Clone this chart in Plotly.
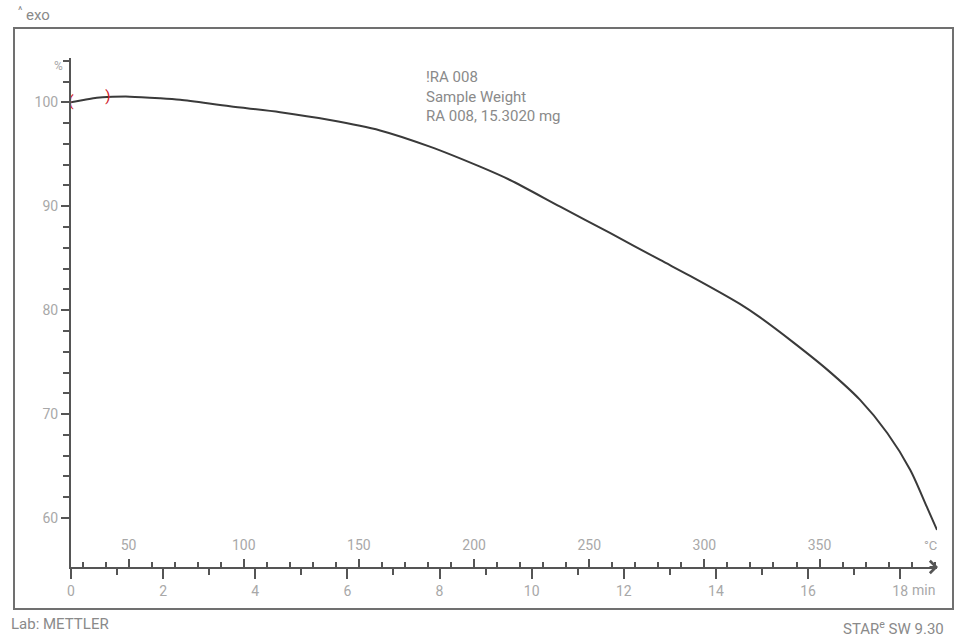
import plotly.graph_objects as go
import numpy as np

# ---- data ----
time_min = [0.0, 0.3, 0.56, 0.9, 1.28, 1.93, 2.37, 3.45, 4.54, 5.62, 6.71, 7.79,
            8.88, 9.53, 10.62, 11.70, 12.79, 13.44, 14.52, 14.96, 15.68, 16.41,
            17.13, 17.72, 18.22, 18.58, 18.80]
weight_pct = [100.0, 100.25, 100.45, 100.53, 100.55, 100.4, 100.25, 99.62, 99.05, 98.3,
              97.3, 95.74, 93.81, 92.53, 89.96, 87.43, 84.83, 83.3, 80.6, 79.3,
              76.9, 74.3, 71.36, 68.18, 64.62, 61.06, 58.85]
marker_time = [0.0, 0.8]
marker_text = ["(", ")"]
time_ticks = [0, 2, 4, 6, 8, 10, 12, 14, 16, 18]
time_labels = ["0", "2", "4", "6", "8", "10", "12", "14", "16", "18"]
temp_ticks = [50, 100, 150, 200, 250, 300, 350]
weight_ticks = [60, 70, 80, 90, 100]
start_temp = 25.0   # degC at t = 0
heat_rate = 20.0    # K/min
info_lines = ["!RA 008", "Sample Weight", "RA 008, 15.3020 mg"]

# ---- layout geometry ----
W, H = 963, 643
L, R, T, B = 71, 937, 58, 567
t_range = [0.0, 18.80]
y_range = [55.28, 104.27]
temp_range = [start_temp + heat_rate * t_range[0], start_temp + heat_rate * t_range[1]]

def px(x):
    return (x - L) / (R - L)

def py(y):
    return (B - y) / (B - T)

AX = "#555555"
LBL = "#a8a8a8"
TXT = "#8a8a8a"
FONT = "Roboto"

marker_w = list(np.interp(marker_time, time_min, weight_pct))

fig = go.Figure()
fig.add_trace(go.Scatter(x=time_min, y=weight_pct, mode="lines",
                         line=dict(color="#3a3a3a", width=2, shape="spline", smoothing=0.8),
                         hoverinfo="skip", showlegend=False))
fig.add_trace(go.Scatter(x=marker_time, y=marker_w, mode="text", text=marker_text,
                         textfont=dict(color="#d0202a", size=15, family=FONT),
                         textposition="middle center", showlegend=False, hoverinfo="skip"))
fig.add_trace(go.Scatter(x=[start_temp + heat_rate * t for t in time_min], y=weight_pct,
                         xaxis="x2", mode="lines", line=dict(color="rgba(0,0,0,0)"),
                         showlegend=False, hoverinfo="skip"))

fig.update_layout(
    width=W, height=H,
    margin=dict(l=L, r=W - R, t=T, b=H - B),
    paper_bgcolor="white", plot_bgcolor="white",
    font=dict(family=FONT, color=LBL, size=13),
    xaxis=dict(range=t_range, showgrid=False, zeroline=False,
               showline=True, linecolor=AX, linewidth=2,
               ticks="outside", ticklen=10, tickwidth=2, tickcolor=AX,
               tickvals=time_ticks, ticktext=time_labels,
               tickfont=dict(size=14, color=LBL, family=FONT),
               minor=dict(dtick=1, ticklen=6, tickwidth=2, tickcolor=AX, ticks="outside"),
               fixedrange=True),
    xaxis2=dict(range=temp_range, overlaying="x", side="bottom", showgrid=False,
                zeroline=False, showline=False,
                ticks="inside", ticklen=8, tickwidth=2, tickcolor=AX,
                tickvals=temp_ticks, ticklabelposition="inside", ticklabelstandoff=6,
                tickfont=dict(size=14, color=LBL, family=FONT),
                minor=dict(dtick=10, tick0=0, ticklen=5, tickwidth=2, tickcolor=AX, ticks="inside"),
                fixedrange=True),
    yaxis=dict(range=y_range, showgrid=False, zeroline=False,
               showline=True, linecolor=AX, linewidth=2,
               ticks="outside", ticklen=8, tickwidth=2, tickcolor=AX,
               tickvals=weight_ticks,
               tickfont=dict(size=14, color=LBL, family=FONT),
               minor=dict(dtick=2, tick0=0, ticklen=6, tickwidth=2, tickcolor=AX, ticks="outside"),
               fixedrange=True),
)

fig.add_shape(type="rect", xref="paper", yref="paper",
              x0=px(14), x1=px(953), y0=py(609), y1=py(28),
              line=dict(color="#707070", width=2), layer="below")

ann = [
    dict(text="<sup>^</sup> exo", x=px(16), y=py(14), xanchor="left", yanchor="middle",
         font=dict(size=15, color=TXT)),
    dict(text="%", x=px(58), y=py(66), xanchor="center", yanchor="middle",
         font=dict(size=12, color=LBL)),
    dict(text="<br>".join(info_lines), x=px(424), y=py(66), xanchor="left", yanchor="top",
         align="left", font=dict(size=15, color=TXT)),
    dict(text="°C", x=px(930), y=py(545), xanchor="center", yanchor="middle",
         font=dict(size=13, color=LBL)),
    dict(text="min", x=px(910), y=py(590), xanchor="left", yanchor="middle",
         font=dict(size=14, color=LBL)),
    dict(text="Lab: METTLER", x=px(9), y=py(624), xanchor="left", yanchor="middle",
         font=dict(size=15, color=TXT)),
    dict(text="STAR<sup>e</sup> SW 9.30", x=px(946), y=py(628), xanchor="right", yanchor="middle",
         font=dict(size=15, color=TXT)),
]
for a in ann:
    fig.add_annotation(xref="paper", yref="paper", showarrow=False, **a)

fig.add_annotation(xref="paper", yref="paper", x=px(938), y=py(567), ax=-10, ay=0,
                   text="", showarrow=True,
                   arrowhead=4, arrowsize=1.2, arrowwidth=2, arrowcolor=AX)

fig.write_html("out.html")
